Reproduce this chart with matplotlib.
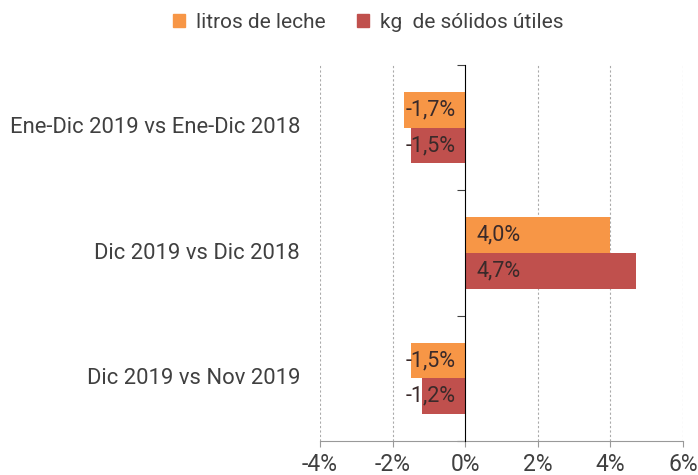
import matplotlib
matplotlib.use('Agg')
import matplotlib.pyplot as plt
import matplotlib.transforms as mtransforms
from matplotlib.patches import Patch
import numpy as np

plt.rcParams['font.family'] = ['Roboto', 'DejaVu Sans']

categories = ['Ene-Dic 2019 vs Ene-Dic 2018', 'Dic 2019 vs Dic 2018', 'Dic 2019 vs Nov 2019']
litros = [-1.7, 4.0, -1.5]
solidos = [-1.5, 4.7, -1.2]
series_names = ['litros de leche', 'kg  de sólidos útiles']
colors = ['#F79646', '#C0504D']
xticks = [-4, -2, 0, 2, 4, 6]


def fmt(v):
  return '{:.1f}%'.format(v).replace('.', ',')


def main():
  fig = plt.figure(figsize=(6.98, 4.75), dpi=100)
  ax = fig.add_axes([0.4585, 0.0716, 0.52, 0.7914])

  ypos = np.arange(len(categories))
  h = 0.285
  text_col = '#404040'

  for i, (vals, col) in enumerate(zip([litros, solidos], colors)):
    y = ypos - h / 2 + i * h
    ax.barh(y, vals, height=h, color=col, zorder=3)
    for yy, v in zip(y, vals):
      off = 0.3 if v > 0 else -0.27
      ax.text(off, yy, fmt(v), ha='left' if v > 0 else 'right', va='center',
              fontsize=15.5, color='#3a2a2a', zorder=4)

  ax.set_ylim(len(categories) - 0.5, -0.5)
  ax.set_xlim(-4, 6)

  # category boundary ticks on the zero line
  ax.spines['left'].set_position(('data', 0))
  ax.spines['left'].set_color('black')
  ax.spines['left'].set_zorder(5)
  ax.set_yticks(np.arange(len(categories) + 1) - 0.5)
  ax.set_yticklabels([])
  ax.tick_params(axis='y', length=6, color='#404040')

  trans = mtransforms.blended_transform_factory(ax.transAxes, ax.transData)
  for yy, lab in zip(ypos, categories):
    ax.text(-0.055, yy, lab, transform=trans, ha='right', va='center',
            fontsize=15.8, color=text_col)

  ax.set_xticks(xticks)
  ax.set_xticklabels(['{}%'.format(t) for t in xticks])
  ax.tick_params(axis='x', length=4, color='#999999', labelsize=16.5,
                 labelcolor=text_col, pad=5)

  for t in xticks:
    if t != 0:
      ax.axvline(t, color='#aaaaaa', linestyle=(0, (2, 2)), linewidth=0.8, zorder=1)

  ax.spines['top'].set_visible(False)
  ax.spines['right'].set_visible(False)
  ax.spines['bottom'].set_color('#999999')

  handles = [Patch(color=c, label=n) for c, n in zip(colors, series_names)]
  leg = fig.legend(handles=handles, loc='center', bbox_to_anchor=(368 / 698, 1 - 22 / 475),
                   ncol=2, frameon=False, fontsize=15, handlelength=0.6, handleheight=0.6,
                   handletextpad=0.5, columnspacing=1.5)
  for t in leg.get_texts():
    t.set_color(text_col)

  fig.savefig('out.png', dpi=100)


if __name__ == '__main__':
  main()
